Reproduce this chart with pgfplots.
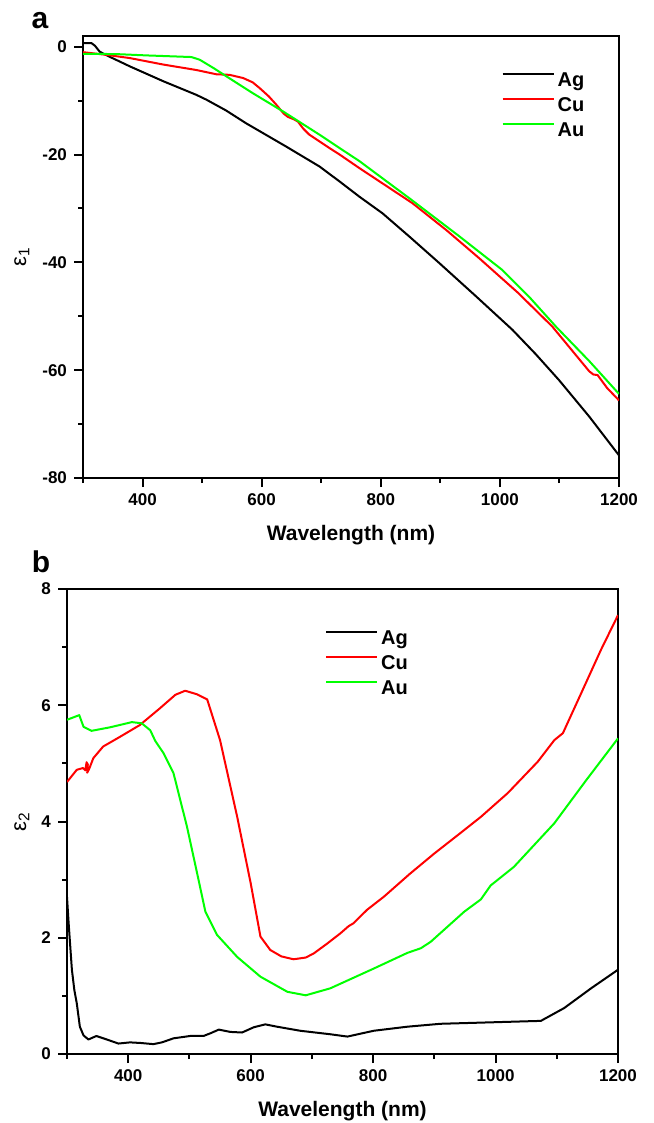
\documentclass[border=0pt]{standalone}
\usepackage{fontspec}
\setmainfont{Liberation Sans}
\usepackage{pgfplots}
\pgfplotsset{compat=1.18}
\definecolor{cured}{RGB}{255,0,0}
\definecolor{augreen}{RGB}{0,255,0}

\pgfplotsset{
  panel/.style={
    scale only axis,
    axis line style={line width=1pt},
    tick pos=left, tick align=outside,
    major tick length=4.5pt, minor tick length=2.5pt,
    every tick/.style={black, line width=1pt},
    xmin=300, xmax=1200,
    xtick={400,600,...,1200}, minor xtick={300,500,...,1100},
    xticklabels={400,600,800,1000,1200},
    tick label style={font=\fontsize{8.5}{10}\selectfont\bfseries},
    xlabel={Wavelength (nm)},
    xlabel style={font=\fontsize{10.5}{12}\selectfont\bfseries, yshift=-2.5pt},
    ylabel style={font=\fontsize{11}{12}\selectfont, anchor=center},
    legend cell align=left,
    legend style={draw=none, fill=none, anchor=north west,
      font=\fontsize{10}{12}\selectfont\bfseries, row sep=0pt,
      nodes={inner sep=1.5pt, text height=7.5pt, text depth=2pt}},
    legend image code/.code={\draw[#1] (0pt,3.5pt) -- (25.5pt,3.5pt);},
    every axis plot/.append style={line width=1pt, line join=round},
  }
}

\begin{document}
\begin{tikzpicture}
\useasboundingbox (0,0) rectangle (326.5pt,-561.5pt);

% panel a: real part
\begin{axis}[panel,
  at={(41.5pt,-239pt)}, anchor=south west,
  width=268pt, height=221pt,
  ymin=-80, ymax=2,
  ytick={-80,-60,-40,-20,0}, yticklabels={-80,-60,-40,-20,0},
  minor ytick={-70,-50,-30,-10},
  ylabel={ε\textsubscript{1}},
  ylabel style={at={(axis description cs:-0.114,0.5)}},
  legend style={at={(axis description cs:0.769,0.937)}},
]
\addplot[black] coordinates {
  (300,0.7)(314,0.7)(320,0.2)(328,-0.9)(340,-1.6)(379,-3.65)(435,-6.4)
  (490,-8.9)(507,-9.8)(540,-11.8)(574,-14.2)(641,-18.5)(697,-22.2)
  (731,-25.0)(764,-27.8)(803,-30.9)(850,-35.4)(898,-40.1)(960,-46.3)
  (1021,-52.5)(1060,-57.0)(1099,-61.8)(1150,-68.6)(1200,-75.8)
};
\addplot[cured] coordinates {
  (300,-1.0)(340,-1.5)(379,-2.1)(435,-3.3)(490,-4.3)(524,-5.1)(546,-5.2)
  (569,-5.8)(585,-6.6)(597,-7.7)(612,-9.2)(625,-10.8)(637,-12.4)(644,-13.0)
  (655,-13.5)(661,-13.9)(670,-15.2)(680,-16.3)(714,-18.8)(731,-20.0)
  (764,-22.5)(853,-29.0)(910,-34.0)(965,-39.2)(1030,-45.6)(1088,-51.9)
  (1150,-60.2)(1157,-60.8)(1164,-60.9)(1180,-63.3)(1200,-65.6)
};
\addplot[augreen] coordinates {
  (300,-1.3)(355,-1.35)(407,-1.6)(482,-1.9)(496,-2.4)(520,-4.0)(541,-5.5)
  (585,-8.6)(636,-12.0)(697,-16.3)(731,-18.8)(764,-21.2)(848,-28.1)
  (930,-35.0)(1004,-41.4)(1050,-46.5)(1094,-51.9)(1150,-58.3)(1200,-64.4)
};
\legend{Ag,Cu,Au}
\end{axis}

% panel b: imaginary part
\begin{axis}[panel,
  at={(33.5pt,-527pt)}, anchor=south west,
  width=275.5pt, height=232.5pt,
  ymin=0, ymax=8,
  ytick={0,2,4,6,8}, yticklabels={0,2,4,6,8},
  minor ytick={1,3,5,7},
  ylabel={ε\textsubscript{2}},
  ylabel style={at={(axis description cs:-0.082,0.5)}},
  legend style={at={(axis description cs:0.457,0.928)}},
]
\addplot[black] coordinates {
  (300,2.7)(303,2.2)(308,1.45)(312,1.1)(316,0.87)(321,0.47)(327,0.32)
  (335,0.25)(348,0.31)(365,0.25)(384,0.18)(403,0.20)(420,0.19)(441,0.17)
  (455,0.2)(474,0.27)(501,0.31)(523,0.31)(535,0.36)(548,0.42)(567,0.38)
  (586,0.37)(605,0.46)(624,0.51)(643,0.47)(681,0.40)(730,0.34)(758,0.30)
  (801,0.40)(856,0.47)(910,0.52)(976,0.54)(1074,0.57)(1112,0.79)
  (1156,1.13)(1200,1.45)
};
\addplot[cured] coordinates {
  (300,4.68)(316,4.89)(326,4.92)(330,4.88)(332,5.02)(334,4.98)(333,4.84)
  (336,4.90)(343,5.09)(359,5.29)(387,5.46)(419,5.66)(452,5.95)(477,6.18)
  (493,6.25)(512,6.19)(529,6.10)(550,5.40)(578,4.08)(600,2.94)(616,2.02)
  (632,1.79)(650,1.68)(670,1.63)(690,1.66)(703,1.73)(725,1.9)(747,2.08)
  (760,2.20)(768,2.25)(790,2.48)(818,2.71)(860,3.1)(900,3.45)(940,3.78)
  (976,4.08)(1020,4.49)(1069,5.03)(1096,5.40)(1110,5.52)(1140,6.21)
  (1172,6.95)(1200,7.55)
};
\addplot[augreen] coordinates {
  (300,5.75)(320,5.83)(327,5.63)(340,5.56)(370,5.62)(406,5.71)(422,5.69)
  (436,5.57)(444,5.39)(458,5.17)(474,4.83)(496,3.91)(515,2.99)(526,2.45)
  (545,2.05)(578,1.67)(616,1.33)(660,1.07)(690,1.01)(730,1.13)(801,1.47)
  (856,1.74)(878,1.82)(894,1.93)(949,2.45)(976,2.66)(992,2.90)(1030,3.22)
  (1096,3.97)(1148,4.71)(1200,5.43)
};
\legend{Ag,Cu,Au}
\end{axis}

\node[font=\fontsize{15}{18}\selectfont\bfseries] at (20pt,-10.5pt) {a};
\node[font=\fontsize{15}{18}\selectfont\bfseries] at (20.5pt,-281pt) {b};
\end{tikzpicture}
\end{document}
